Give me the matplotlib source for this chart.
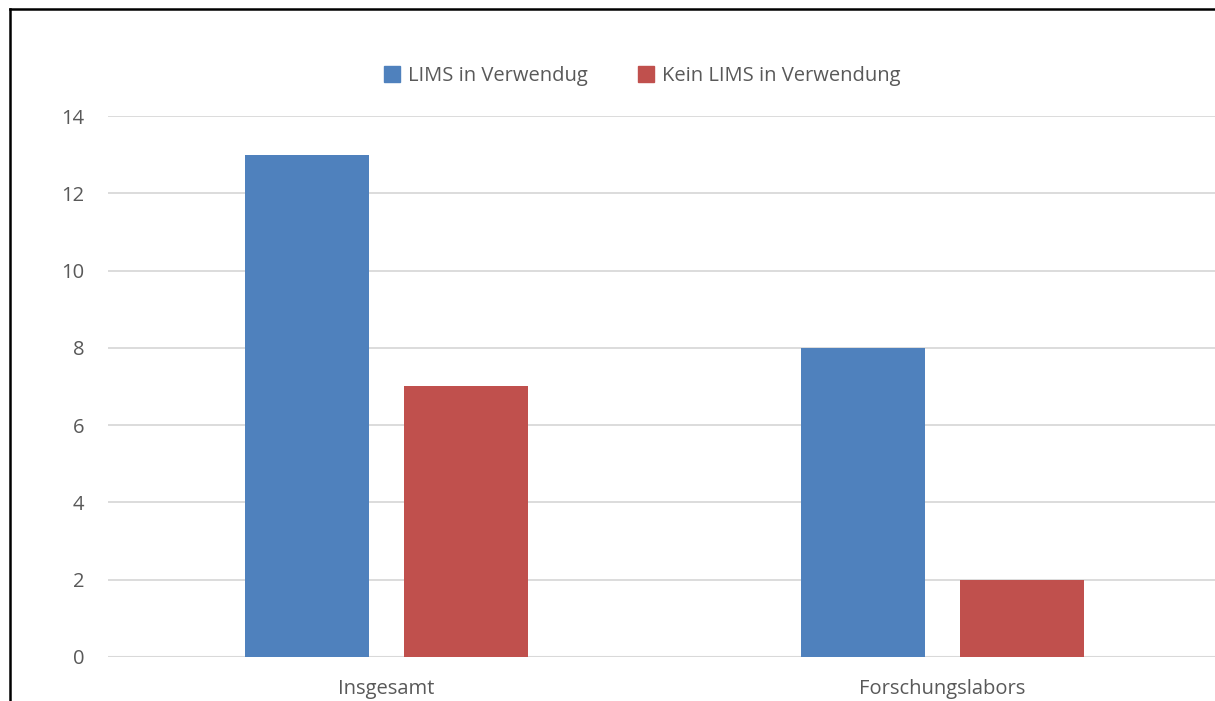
import matplotlib.pyplot as plt
from matplotlib.lines import Line2D
import numpy as np

categories = ['Insgesamt', 'Forschungslabors']
lims_used = [13, 8]
no_lims = [7, 2]
series_names = ['LIMS in Verwendug', 'Kein LIMS in Verwendung']
yticks = [0, 2, 4, 6, 8, 10, 12, 14]

blue = '#4F81BD'
red = '#C0504D'
text_grey = '#595959'

plt.rcParams['font.family'] = ['Open Sans', 'DejaVu Sans']

fig = plt.figure(figsize=(12.15, 7.01), dpi=100)
ax = fig.add_axes([0.0889, 0.0628, 0.9152, 0.7717])

x = np.arange(len(categories))
w = 0.224
ax.bar(x - 0.142, lims_used, width=w, color=blue, label=series_names[0], zorder=3)
ax.bar(x + 0.144, no_lims, width=w, color=red, label=series_names[1], zorder=3)

ax.set_xlim(-0.5, 1.5)
ax.set_ylim(0, 14)
ax.set_yticks(yticks)
ax.set_xticks(x)
ax.set_xticklabels(categories)
ax.tick_params(axis='both', length=0, labelsize=14.5, colors=text_grey)
ax.tick_params(axis='y', pad=17)
ax.tick_params(axis='x', pad=16)
ax.grid(axis='y', color='#D9D9D9', linewidth=1.3, zorder=0)
ax.set_axisbelow(True)
for s in ax.spines.values():
    s.set_visible(False)
ax.axhline(0, color='#D9D9D9', linewidth=1.5, zorder=2)

handles = [Line2D([], [], marker='s', linestyle='', markersize=12, color=blue),
           Line2D([], [], marker='s', linestyle='', markersize=12, color=red)]
fig.legend(handles, series_names, loc='center', bbox_to_anchor=(0.528, 0.892),
           ncol=2, frameon=False, fontsize=14.5, labelcolor=text_grey,
           handletextpad=0.3, columnspacing=2.4, handlelength=1.0)

# frame lines at left and top
fig.add_artist(Line2D([10 / 1215, 10 / 1215], [0, 1 - 8.5 / 701], color='black', linewidth=1.8))
fig.add_artist(Line2D([10 / 1215, 1], [1 - 8.5 / 701, 1 - 8.5 / 701], color='black', linewidth=1.8))

fig.savefig('out.png', dpi=100)
